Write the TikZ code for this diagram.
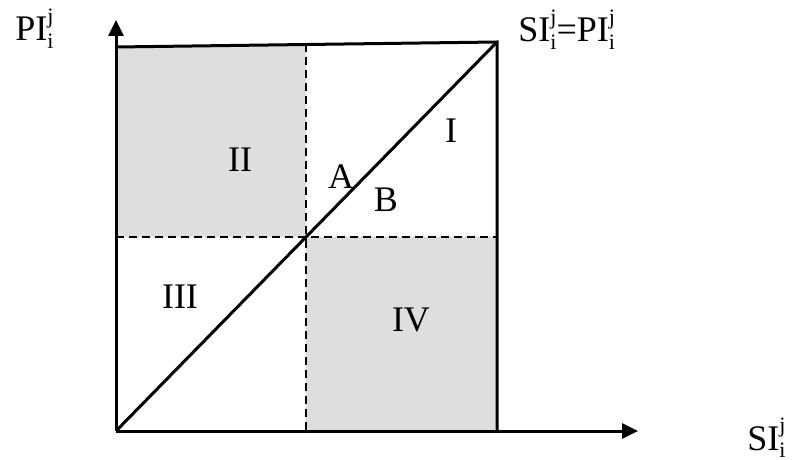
\documentclass[tikz,border=0pt]{standalone}
\usepackage{fontspec}
\setmainfont{Liberation Serif}
\usetikzlibrary{arrows.meta}
\newcommand{\idxlabel}[1]{#1\rlap{\raisebox{0.48em}{\fontsize{11}{12}\selectfont j}}\raisebox{-0.22em}{\fontsize{11}{12}\selectfont i}}

\begin{document}
\begin{tikzpicture}[x=0.5pt,y=-0.5pt,
    axis/.style={line width=1.5pt, -{Triangle[length=8pt,width=7.5pt]}},
    edge/.style={line width=1.5pt},
    split/.style={line width=0.9pt, dash pattern=on 4pt off 2.5pt},
    zone/.style={fill=black!13},
    lbl/.style={font=\fontsize{18}{21}\selectfont, inner sep=0pt}
  ]
    \useasboundingbox (0,0) rectangle (793,460);
    % corners of the square
    \coordinate (o) at (116,431);
    \coordinate (ytip) at (116,20);
    \coordinate (xtip) at (638,431);
    \coordinate (tl) at (116,47);
    \coordinate (tr) at (497,42);
    \coordinate (br) at (497,431);
    \coordinate (m) at (306,237);
    \coordinate (tm) at (306,44.5);
    \coordinate (bm) at (306,431);
    \coordinate (lm) at (116,237);
    \coordinate (rm) at (497,237);
    % shaded quadrants
    \fill[zone] (tl) -- (tm) -- (m) -- (lm) -- cycle;
    \fill[zone] (m) -- (rm) -- (br) -- (bm) -- cycle;
    % dashed splits
    \draw[split] (tm) -- (bm);
    \draw[split] (lm) -- (rm);
    % frame and diagonal
    \draw[edge] (tl) -- (tr) -- (br);
    \draw[edge] (o) -- (tr);
    \draw[axis] (o) -- (ytip);
    \draw[axis] (o) -- (xtip);
    % labels
    \node[lbl, anchor=base west] (pi) at (15,41) {\idxlabel{PI}};
    \node[lbl, anchor=base west] (sipi) at (518,42) {\idxlabel{SI}=\idxlabel{PI}};
    \node[lbl, anchor=base west] (si) at (747,450) {\idxlabel{SI}};
    \node[lbl] (q2) at (240,160) {II};
    \node[lbl] (q1) at (451,131) {I};
    \node[lbl] (qa) at (341,177) {A};
    \node[lbl] (qb) at (386,200) {B};
    \node[lbl] (q3) at (180,297) {III};
    \node[lbl] (q4) at (411,320) {IV};
\end{tikzpicture}
\end{document}
